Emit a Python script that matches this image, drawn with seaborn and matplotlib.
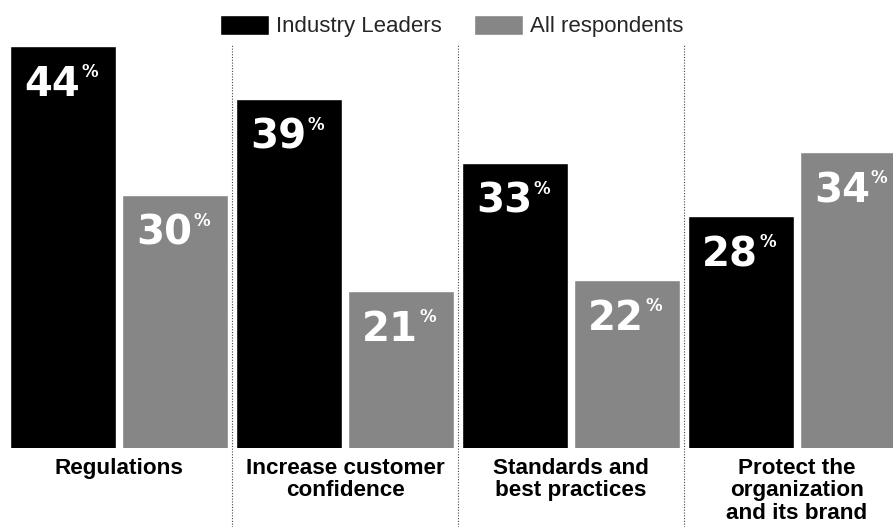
import matplotlib
matplotlib.use("Agg")
import matplotlib.pyplot as plt
from matplotlib.transforms import blended_transform_factory
import pandas as pd
import seaborn as sns

categories = ["Regulations", "Increase customer\nconfidence", "Standards and\nbest practices",
              "Protect the\norganization\nand its brand"]
leaders = [44, 39, 33, 28]
all_resp = [30, 21, 22, 34]
groups = ["Industry Leaders", "All respondents"]
colors = ["#000000", "#868686"]

df = pd.DataFrame({
    "category": categories * 2,
    "value": leaders + all_resp,
    "group": [groups[0]] * 4 + [groups[1]] * 4,
})

sns.set_style("white")
plt.rcParams["font.family"] = ["Liberation Sans", "DejaVu Sans"]

fig = plt.figure(figsize=(8.93, 5.27), dpi=100)
ax = fig.add_axes([0, 79 / 527, 1, 448 / 527])

sns.barplot(data=df, x="category", y="value", hue="group", palette=colors,
            width=0.99, gap=0.054, saturation=1, ax=ax, order=categories)

ax.set_xlim(-0.527, 3.425)
ax.set_ylim(6.2, 48.3)
for s in ax.spines.values():
    s.set_visible(False)
ax.set_yticks([])
ax.set_xlabel("")
ax.set_ylabel("")
ax.tick_params(axis="x", length=0, pad=7)
ax.set_xticks(range(len(categories)))
ax.set_xticklabels(categories, fontsize=16.2, fontweight="bold", linespacing=1.1,
                   color="black")

# dotted separators between groups
trans = blended_transform_factory(ax.transData, fig.transFigure)
for xs in [0.5, 1.5, 2.5]:
    ax.plot([xs, xs], [0, 1 - 44 / 527], transform=trans, color="#444444", lw=0.8,
            linestyle=(0, (1, 1.5)), clip_on=False)

leg = ax.legend(loc="center", bbox_to_anchor=(0.506, 1 - 26 / 448), ncol=2, frameon=False,
                fontsize=16, handlelength=2.2, handleheight=1.0, handletextpad=0.32,
                columnspacing=1.45, borderaxespad=0)

# value labels
nums = []
for bar in ax.patches:
    h = bar.get_height()
    if h <= 0:
        continue
    t = ax.annotate(f"{int(round(h))}", xy=(bar.get_x(), h), xytext=(14, -19),
                    textcoords="offset pixels", ha="left", va="top", family="DejaVu Sans",
                    color="white", fontsize=29, fontweight="bold")
    nums.append(t)

fig.canvas.draw()
r = fig.canvas.get_renderer()
for t in nums:
    bb = t.get_window_extent(r)
    ax.annotate("%", xy=(bb.x1, bb.y1), xycoords="figure pixels", xytext=(1, 2),
                textcoords="offset pixels", ha="left", va="top", family="DejaVu Sans",
                color="white", fontsize=12, fontweight="bold")

fig.savefig("out.png", dpi=100)
